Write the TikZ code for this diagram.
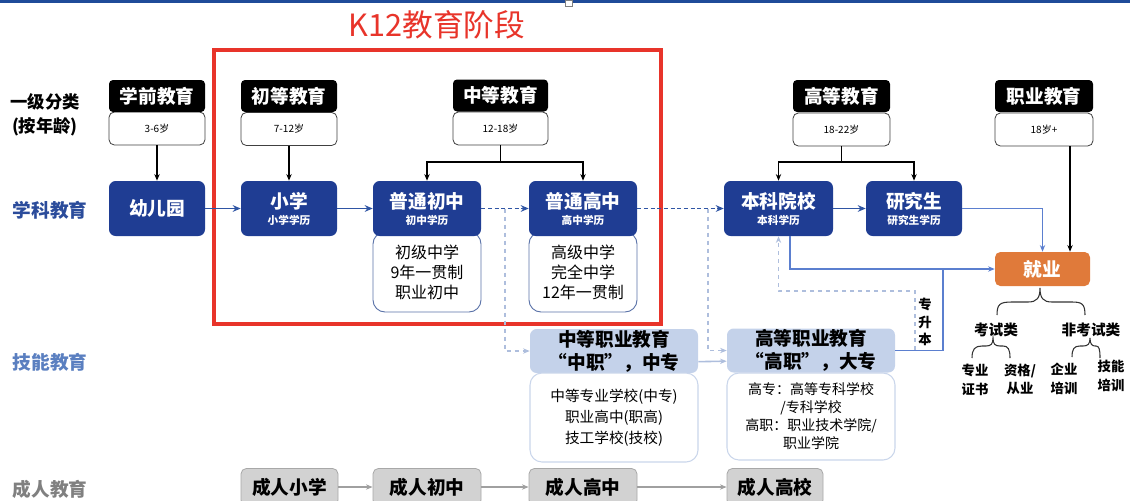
\documentclass[tikz,border=0pt]{standalone}
\usepackage{fontspec}
\setmainfont{Noto Sans CJK SC}
\usetikzlibrary{arrows.meta,calc}
\definecolor{kblue}{HTML}{1F3D93}
\definecolor{ablue}{HTML}{2F55A4}
\definecolor{lline}{HTML}{5B7FCF}
\definecolor{dline}{HTML}{AEBEDD}
\definecolor{wbord}{HTML}{5A72A8}
\definecolor{lhfill}{HTML}{C4D2EA}
\definecolor{lbord}{HTML}{CAD6EB}
\definecolor{gfill}{HTML}{D2D2D2}
\definecolor{gbord}{HTML}{A8A8A8}
\definecolor{garrow}{HTML}{A0A0A0}
\definecolor{jorange}{HTML}{E07A3A}
\definecolor{kred}{HTML}{E8342A}
\definecolor{topbar}{HTML}{1F4B99}
\definecolor{lab1}{HTML}{2B4C9B}
\definecolor{lab2}{HTML}{5A7FC0}
\newcommand\fsz[2]{\fontsize{#1}{#2}\selectfont}
\begin{document}
\begin{tikzpicture}[x=0.75pt,y=-0.75pt,
  hdr/.style={fill=black, text=white, font=\bfseries\fsz{14}{16}, rounded corners=3pt, minimum width=72pt, minimum height=24pt, inner sep=0pt},
  agebox/.style={draw=black!75, line width=0.6pt, fill=white, rounded corners=4pt, minimum width=72pt, minimum height=24.75pt, inner sep=0pt, font=\fsz{7.5}{8}},
  bbox/.style={fill=kblue, text=white, rounded corners=5pt, minimum width=72pt, minimum height=41.25pt, inner sep=0pt, align=center, font=\bfseries\fsz{14}{15}},
  wbox/.style={draw=wbord, line width=0.7pt, fill=white, rounded corners=9pt, minimum width=81pt, minimum height=60pt, align=center, inner sep=0pt, font=\fsz{12}{15}},
  lhead/.style={fill=lhfill, rounded corners=5pt, minimum width=126pt, minimum height=33pt, align=center, font=\bfseries\fsz{14}{17.25}, inner sep=0pt},
  lbody/.style={draw=lbord, line width=0.8pt, fill=white, rounded corners=9pt, minimum width=126pt, align=center, inner sep=0pt},
  gbox/.style={fill=gfill, draw=gbord, line width=0.6pt, rounded corners=4pt, minimum height=27.75pt, font=\bfseries\fsz{14}{16}, inner sep=0pt},
  blk/.style={draw=black, line width=1.1pt, -{Stealth[length=5pt,width=4pt]}},
  blkline/.style={draw=black, line width=1.1pt},
  barrow/.style={draw=ablue, line width=1.4pt, -{Stealth[length=6pt,width=5pt]}},
  bdash/.style={draw=ablue, line width=1.3pt, densely dashed, -{Stealth[length=6pt,width=5pt]}},
  larrow/.style={draw=lline, line width=1pt, -{Stealth[length=5pt,width=4pt]}},
  lline/.style={draw=lline, line width=1pt},
  ldash/.style={draw=dline, line width=1pt, dashed, -{Stealth[length=5pt,width=4pt]}},
  parrow/.style={draw=dline, line width=1.2pt, -{Stealth[length=5pt,width=4pt]}},
  garr/.style={draw=garrow, line width=1.2pt, -{Stealth[length=5pt,width=4pt]}},
  brace/.style={draw=black!80, line width=0.8pt},
  small/.style={font=\bfseries\fsz{10}{14}, align=center, inner sep=0pt}
]
\useasboundingbox (0,0) rectangle (1130,500);
\clip (0,0) rectangle (1130,500);
\fill[topbar] (0,0) rectangle (1130,3);
\draw[gray, fill=white, line width=0.5pt] (565,0) rectangle (572,6);

% title + red frame
\node[text=kred, font=\fsz{23}{25}, inner sep=0pt] (title) at (437,25) {K12教育阶段};
\draw[kred, line width=2.3pt] (214,50) rectangle (661,324);

% left labels
\node[font=\bfseries\fsz{13}{18}, align=center, inner sep=0pt] (lab0) at (45,115) {一级分类\\(按年龄)};
\node[font=\bfseries\fsz{14}{16}, text=lab1, inner sep=0pt] (lab1) at (50,210) {学科教育};
\node[font=\bfseries\fsz{14}{16}, text=lab2, inner sep=0pt] (lab2) at (50,362) {技能教育};
\node[font=\bfseries\fsz{14}{16}, text=black!50, inner sep=0pt] (lab3) at (50,489) {成人教育};

% age boxes
\node[agebox] (g1) at (157,128.5) {3-6岁};
\node[agebox] (g2) at (289,129) {7-12岁};
\node[agebox, minimum width=71.25pt] (g3) at (500.5,128.5) {12-18岁};
\node[agebox, minimum width=72.75pt] (g4) at (841.5,129.5) {18-22岁};
\node[agebox, minimum width=73.5pt] (g5) at (1044,129.5) {18岁+};
% headers
\node[hdr] (h1) at (157,96) {学前教育};
\node[hdr] (h2) at (289,96) {初等教育};
\node[hdr, minimum width=71.25pt] (h3) at (500.5,95.5) {中等教育};
\node[hdr, minimum width=72.75pt] (h4) at (841.5,96) {高等教育};
\node[hdr, minimum width=73.5pt] (h5) at (1044,96) {职业教育};

% white boxes under middle school boxes
\node[wbox] (w2) at (427,272) {初级中学\\9年一贯制\\职业初中};
\node[wbox] (w3) at (583,272) {高级中学\\完全中学\\12年一贯制};

% blue boxes
\node[bbox] (b0) at (157,208.5) {幼儿园};
\node[bbox] (b1) at (289,208.5) {小学\\[-3pt]{\fsz{8}{9}小学学历}};
\node[bbox, minimum width=81pt] (b2) at (427,208.5) {普通初中\\[-3pt]{\fsz{8}{9}初中学历}};
\node[bbox, minimum width=81pt] (b3) at (583,208.5) {普通高中\\[-3pt]{\fsz{8}{9}高中学历}};
\node[bbox, minimum width=81.75pt] (b4) at (778.5,208.5) {本科院校\\[-3pt]{\fsz{8}{9}本科学历}};
\node[bbox] (b5) at (914,208.5) {研究生\\[-3pt]{\fsz{8}{9}研究生学历}};

% vocational
\node[lhead] (m1) at (614,351) {中等职业教育\\“中职”，中专};
\node[lbody, minimum height=66.75pt, font=\fsz{11}{15.75}] (n1) at (614,417.5) {中等专业学校(中专)\\职业高中(职高)\\技工学校(技校)};
\node[lhead] (m2) at (811,350.5) {高等职业教育\\“高职”，大专};
\node[lbody, minimum height=65.25pt, font=\fsz{10.5}{13.5}] (n2) at (811,416.5) {高专：高等专科学校\\/专科学校\\高职：职业技术学院/\\职业学院};

% adult
\node[gbox, minimum width=72.75pt] (a1) at (289.5,487) {成人小学};
\node[gbox, minimum width=81pt] (a2) at (427,487) {成人初中};
\node[gbox, minimum width=81pt] (a3) at (583,487) {成人高中};
\node[gbox, minimum width=72pt] (a4) at (775,487) {成人高校};

% job
\node[fill=jorange, text=white, rounded corners=4pt, minimum width=71.25pt, minimum height=25.5pt, inner sep=0pt, font=\bfseries\fsz{14}{16}] (job) at (1042.5,269) {就业};

% job categories
\node[small, font=\bfseries\fsz{11}{14}] (t1) at (996,330) {考试类};
\node[small, font=\bfseries\fsz{11}{14}] (t2) at (1091,330) {非考试类};
\node[small] (s1) at (975,379.5) {专业\\证书};
\node[small] (s2) at (1020,379.5) {资格/\\从业};
\node[small] (s3) at (1064,379) {企业\\培训};
\node[small] (s4) at (1111,376) {技能\\培训};
\node[small, font=\bfseries\fsz{10}{13}] (zsb) at (925,322) {专\\升\\本};

% braces
\draw[brace] (997,315) .. controls (997,304) and (1000,302) .. (1012,302) -- (1028,302) .. controls (1037,302) and (1040,298) .. (1040,288) .. controls (1040,298) and (1043,302) .. (1052,302) -- (1072,302) .. controls (1082,302) and (1085,304) .. (1085,315);
\draw[brace] (972,358) .. controls (972,349) and (975,346) .. (982,346) -- (986,346) .. controls (991,346) and (993,344) .. (993,338) .. controls (993,344) and (995,346) .. (1000,346) -- (1003,346) .. controls (1008,346) and (1010,349) .. (1010,358);
\draw[brace] (1072,357) .. controls (1072,349) and (1074,346) .. (1080,346) -- (1083,346) .. controls (1088,346) and (1090,344) .. (1090,338) .. controls (1090,344) and (1092,346) .. (1095,346) -- (1096,346) .. controls (1099,346) and (1100,349) .. (1100,358);

% category arrows
\draw[blk] (g1.south) -- (b0.north);
\draw[blk] (g2.south) -- (b1.north);
\coordinate (c3) at (500.5,162);
\draw[blkline] (g3.south) -- (c3);
\draw[blk] (c3) -| (b2.north);
\draw[blk] (c3) -| (b3.north);
\coordinate (c4) at (841.5,162);
\draw[blkline] (g4.south) -- (c4);
\draw[blk] (c4) -| (b4.north);
\draw[blk] (c4) -| (b5.north);
\coordinate (v5) at (1070,146);
\draw[blk] (v5) -- (v5 |- job.north);

% main flow
\draw[barrow] (b0.east) -- (b1.west);
\draw[barrow] (b1.east) -- (b2.west);
\draw[bdash] (b2.east) -- (b3.west);
\draw[bdash] (b3.east) -- (b4.west);
\draw[barrow] (b4.east) -- (b5.west);
\draw[larrow] (b5.east) -| (job.north);
\draw[larrow] ([xshift=8.6pt]b4.south) |- (job.west);
\coordinate (jn) at (943,268);
\draw[lline] (m2.east) -| (jn);

% dashed branches
\coordinate (d1) at (505,208.5);
\draw[ldash] (d1) |- (m1.west);
\coordinate (d2) at (708,208.5);
\draw[ldash] (d2) |- (m2.west);
\coordinate (zs) at (915,350);
\coordinate (zs2) at (778.5,291);
\draw[ldash] (zs) |- (zs2) -- (b4.south);
\draw[parrow] ([yshift=-8pt]m1.east) -- ([yshift=-8pt]m2.west);

% adult flow
\draw[garr] (a1.east) -- (a2.west);
\draw[garr] (a2.east) -- (a3.west);
\draw[garr] (a3.east) -- (a4.west);
\end{tikzpicture}
\end{document}
